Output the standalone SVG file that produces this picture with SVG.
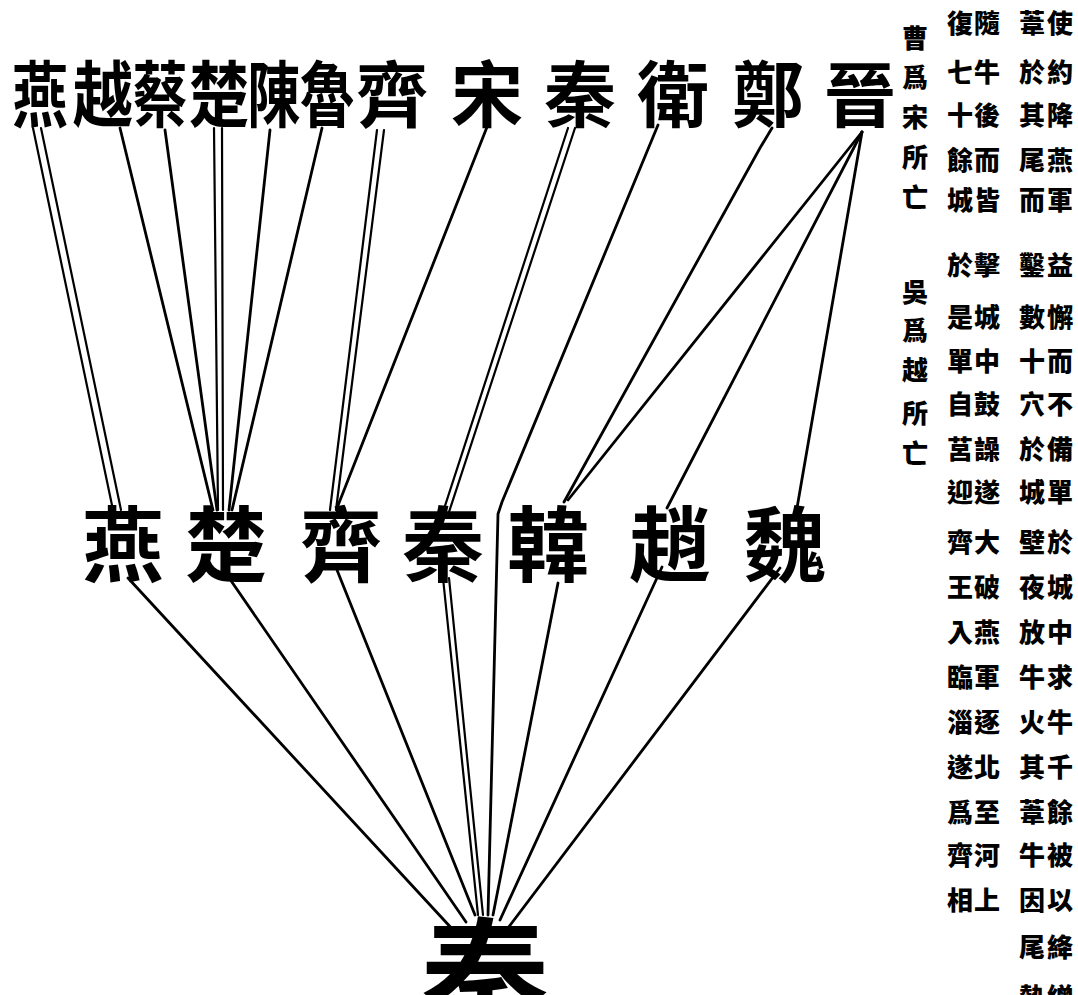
<svg xmlns="http://www.w3.org/2000/svg" width="1078" height="995" viewBox="0 0 1078 995">
<style>
.big{font-family:"Noto Sans CJK TC","Noto Sans CJK SC",sans-serif;font-weight:700;fill:#000;text-anchor:middle}
.t{font-size:72px}
.m{font-size:82px}
.b{font-size:128px}
.note{font-family:"Noto Sans CJK TC","Noto Sans CJK SC",sans-serif;font-weight:900;font-size:26px;fill:#000;text-anchor:middle}
.ln{stroke:#000;stroke-width:2.8;fill:none;stroke-linecap:round;stroke-linejoin:round}
.dl{stroke:#000;stroke-width:2.2;fill:none;stroke-linecap:round}
</style>
<rect width="1078" height="995" fill="#fff"/>
<g id="connectors">
<path class="dl" d="M33,128 L113,510"/><path class="dl" d="M41,128 L121,510"/>
<path class="ln" d="M120,128 L213,510"/>
<path class="ln" d="M165,130 L217,510"/>
<path class="dl" d="M214,128 L218,510"/><path class="dl" d="M222,128 L223,510"/>
<path class="ln" d="M270,130 L229,510"/>
<path class="ln" d="M322,128 L232,510"/>
<path class="dl" d="M377,130 L330,510"/><path class="dl" d="M384,130 L336,510"/>
<path class="ln" d="M487,127 L337,508"/>
<path class="dl" d="M568,128 L443,512"/><path class="dl" d="M575,128 L449,512"/>
<path class="ln" d="M658,125 L502,502 L498,514 L488,915"/>
<path class="ln" d="M772,128 L760,148 L564,502"/>
<path class="ln" d="M862,132 L568,500"/>
<path class="ln" d="M862,132 L667,508"/>
<path class="ln" d="M862,132 L797,508"/>
<path class="ln" d="M128,578 L455,932"/>
<path class="ln" d="M225,572 L466,922"/>
<path class="ln" d="M337,570 L475,915"/>
<path class="dl" d="M443,578 L478,915"/><path class="dl" d="M449,578 L483,915"/>
<path class="ln" d="M558,583 L493,915"/>
<path class="ln" d="M662,567 L500,920"/>
<path class="ln" d="M780,568 L505,932"/>
</g>
<g id="top-yan"><text class="big t" transform="translate(40,121) scale(0.78,1)">燕</text></g>
<g id="top-yue"><text class="big t" transform="translate(103,121) scale(0.84,1)">越</text></g>
<g id="top-cai"><text class="big t" transform="translate(160,121) scale(0.76,1)">蔡</text></g>
<g id="top-chu"><text class="big t" transform="translate(219,121) scale(0.84,1)">楚</text></g>
<g id="top-chen"><text class="big t" transform="translate(274,121) scale(0.74,1)">陳</text></g>
<g id="top-lu"><text class="big t" transform="translate(327,121) scale(0.76,1)">魯</text></g>
<g id="top-qi"><text class="big t" transform="translate(392,121)">齊</text></g>
<g id="top-song"><text class="big t" transform="translate(487,121)">宋</text></g>
<g id="top-qin"><text class="big t" transform="translate(580,121)">秦</text></g>
<g id="top-wei"><text class="big t" transform="translate(673,121)">衛</text></g>
<g id="top-zheng"><text class="big t" transform="translate(768,121)">鄭</text></g>
<g id="top-jin"><text class="big t" transform="translate(860,121)">晉</text></g>
<g id="mid-yan"><text class="big m" x="123" y="575">燕</text></g>
<g id="mid-chu"><text class="big m" x="226" y="575">楚</text></g>
<g id="mid-qi"><text class="big m" x="341" y="575">齊</text></g>
<g id="mid-qin"><text class="big m" x="443" y="575">秦</text></g>
<g id="mid-han"><text class="big m" x="548" y="575">韓</text></g>
<g id="mid-zhao"><text class="big m" x="670" y="575">趙</text></g>
<g id="mid-wei"><text class="big m" x="785" y="575">魏</text></g>
<g id="bottom-qin"><text class="big b" x="485" y="1026">秦</text></g>
<g id="notes">
<text class="note" x="915 915 915 915 915" y="48 87 127 167 207">曹爲宋所亡</text>
<text class="note" x="915 915 915 915 915" y="302 340 380 423 463">吳爲越所亡</text>
<text class="note" x="960 960 960 960 960 960 960 960 960 960 960 960 960 960 960 960 960 960 960 960" y="33 82 125 170 210 275 327 371 414 459 502 552 597 642 687 732 777 822 865 910">復七十餘城於是單自莒迎齊王入臨淄遂爲齊相</text>
<text class="note" x="987 987 987 987 987 987 987 987 987 987 987 987 987 987 987 987 987 987 987 987" y="33 82 125 170 210 275 327 371 414 459 502 552 597 642 687 732 777 822 865 910">隨牛後而皆擊城中鼓譟遂大破燕軍逐北至河上</text>
<text class="note" x="1032 1032 1032 1032 1032 1032 1032 1032 1032 1032 1032 1032 1032 1032 1032 1032 1032 1032 1032 1032 1032 1032" y="33 82 125 170 210 275 327 371 414 459 502 552 597 642 687 732 777 822 865 910 957 1007">葦於其尾而鑿數十穴於城壁夜放牛火其葦牛因尾熱</text>
<text class="note" x="1060 1060 1060 1060 1060 1060 1060 1060 1060 1060 1060 1060 1060 1060 1060 1060 1060 1060 1060 1060 1060 1060" y="33 82 125 170 210 275 327 371 414 459 502 552 597 642 687 732 777 822 865 910 957 1007">使約降燕軍益懈而不備單於城中求牛千餘被以絳繒</text>
</g>
</svg>
